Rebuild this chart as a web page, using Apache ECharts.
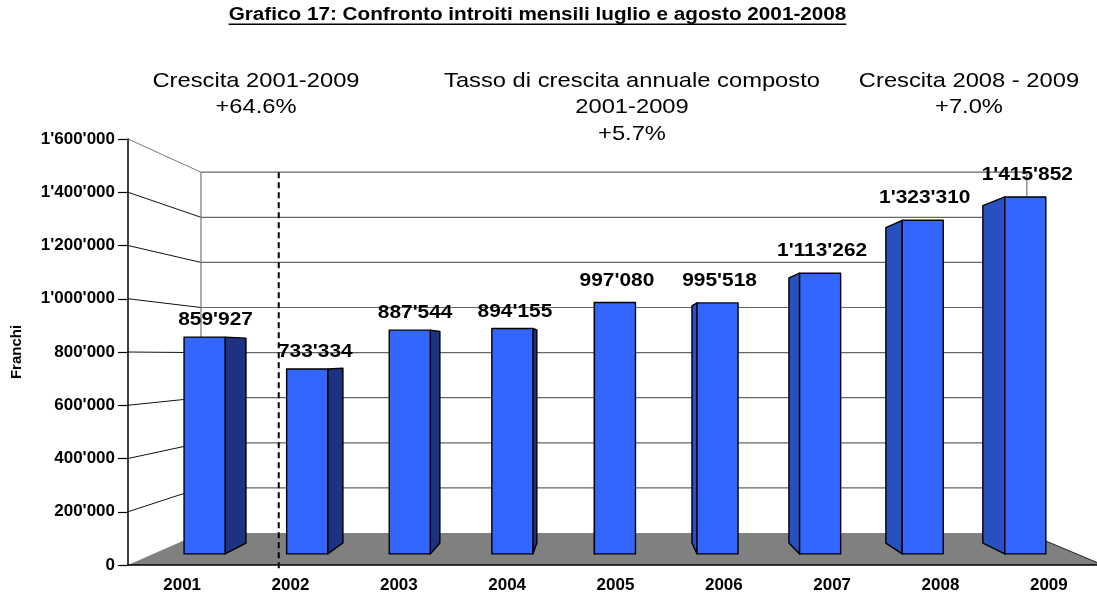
<!DOCTYPE html>
<html>
<head>
<meta charset="utf-8">
<title>Grafico 17</title>
<script src="https://cdn.jsdelivr.net/npm/echarts@6/dist/echarts.min.js"></script>
<style>
  html, body { margin: 0; padding: 0; background: #fff; }
  #chart { width: 1097px; height: 596px; }
</style>
</head>
<body>
<div id="chart"></div>
<script>
// dati del grafico
const anni = ['2001', '2002', '2003', '2004', '2005', '2006', '2007', '2008', '2009'];
const introiti = [859927, 733334, 887544, 894155, 997080, 995518, 1113262, 1323310, 1415852];
const tickValori = [0, 200000, 400000, 600000, 800000, 1000000, 1200000, 1400000, 1600000];
const titolo = 'Grafico 17: Confronto introiti mensili luglio e agosto 2001-2008';
const note = [
  ['Crescita 2001-2009', '+64.6%'],
  ['Tasso di crescita annuale composto', '2001-2009', '+5.7%'],
  ['Crescita 2008 - 2009', '+7.0%']
];

// prospettiva (punto di fuga e profondita')
const VX = 605, VY = 356;
const PROF_PARETE = 0.847;     // parete di fondo
const PROF_BARRA_F = 0.947;    // faccia anteriore barre
const PROF_BARRA_R = 0.895;    // faccia posteriore barre
const PROF_SEPARATORE = 0.885;
const LARGH_BARRA = 0.4;
const SEPARATORE_DOPO = 0;     // linea tratteggiata dopo il 2001

const FONT = '"Liberation Sans", Arial, sans-serif';
const STRETCH = 1.13;

function migliaia(v) {
  return String(Math.round(v)).replace(/\B(?=(\d{3})+(?!\d))/g, "'");
}

function proietta(p, s) {
  return [VX + s * (p[0] - VX), VY + s * (p[1] - VY)];
}

function disegnaParete(params, api) {
  const v = api.value(1);
  const band = api.size([1, 0])[0];
  const sx = api.coord([0, v])[0] - band / 2;
  const dx = api.coord([anni.length - 1, v])[0] + band / 2;
  const y = api.coord([0, v])[1];
  const y0 = api.coord([0, 0])[1];
  const bs = proietta([sx, y], PROF_PARETE);
  const bd = proietta([dx, y], PROF_PARETE);
  const children = [];
  if (v === 0) {
    children.push({
      type: 'polygon',
      shape: { points: [[sx, y], [dx, y], bd, bs] },
      style: { fill: '#808080' }
    });
    children.push({
      type: 'line',
      shape: { x1: dx, y1: y, x2: bd[0], y2: bd[1] },
      style: { stroke: '#222', lineWidth: 1 }
    });
    return { type: 'group', children };
  }
  const top = v === tickValori[tickValori.length - 1];
  children.push({
    type: 'line',
    shape: { x1: sx, y1: y, x2: bs[0], y2: bs[1] },
    style: { stroke: top ? '#7a7a7a' : '#111', lineWidth: 1 }
  });
  children.push({
    type: 'line',
    shape: { x1: bs[0], y1: bs[1], x2: bd[0], y2: bd[1] },
    style: { stroke: '#666', lineWidth: 1.2 }
  });
  if (top) {
    const bs0 = proietta([sx, y0], PROF_PARETE);
    const bd0 = proietta([dx, y0], PROF_PARETE);
    children.push({
      type: 'line',
      shape: { x1: bs[0], y1: bs[1], x2: bs0[0], y2: bs0[1] },
      style: { stroke: '#777', lineWidth: 1.2 }
    });
    children.push({
      type: 'line',
      shape: { x1: bd[0], y1: bd[1], x2: bd0[0], y2: bd0[1] },
      style: { stroke: '#777', lineWidth: 1.2 }
    });
  }
  return { type: 'group', children };
}

function disegnaSeparatore(params, api) {
  const i = api.value(0);
  const band = api.size([1, 0])[0];
  const alto = api.coord([i, api.value(1)]);
  const basso = api.coord([i, 0]);
  const x = proietta([basso[0] + band / 2, basso[1]], PROF_SEPARATORE)[0];
  const yTop = proietta(alto, PROF_PARETE)[1];
  return {
    type: 'line',
    shape: { x1: x, y1: yTop, x2: x, y2: basso[1] + 5 },
    style: { stroke: '#000', lineWidth: 2, lineDash: [6, 4] }
  };
}

function disegnaBarra(params, api) {
  const i = api.value(0);
  const v = api.value(1);
  const band = api.size([1, 0])[0];
  const half = band * LARGH_BARRA / 2;
  const base = api.coord([i, 0]);
  const cima = api.coord([i, v]);
  const cx = base[0];
  const angoli = (s) => ({
    tl: proietta([cx - half, cima[1]], s),
    tr: proietta([cx + half, cima[1]], s),
    br: proietta([cx + half, base[1]], s),
    bl: proietta([cx - half, base[1]], s)
  });
  const F = angoli(PROF_BARRA_F);
  const B = angoli(PROF_BARRA_R);
  const bordo = { stroke: '#000', lineWidth: 1.4, lineJoin: 'round' };
  const children = [];
  if (B.tl[1] < F.tl[1] - 1) {
    children.push({
      type: 'polygon',
      shape: { points: [F.tl, F.tr, B.tr, B.tl] },
      style: Object.assign({ fill: '#5b82ff' }, bordo)
    });
  }
  const sinistra = cx < VX;
  if (sinistra) {
    children.push({
      type: 'polygon',
      shape: { points: [F.tr, B.tr, B.br, F.br] },
      style: Object.assign({ fill: '#1d3381' }, bordo)
    });
  } else {
    children.push({
      type: 'polygon',
      shape: { points: [F.tl, B.tl, B.bl, F.bl] },
      style: Object.assign({ fill: '#2850c0' }, bordo)
    });
  }
  children.push({
    type: 'polygon',
    shape: { points: [F.tl, F.tr, F.br, F.bl] },
    style: Object.assign({ fill: '#3366ff' }, bordo)
  });
  const fc = (F.tl[0] + F.tr[0]) / 2;
  const bc = (B.tl[0] + B.tr[0]) / 2;
  const lx = sinistra ? (fc + bc) / 2 : fc + 2;
  children.push({
    type: 'text',
    x: lx,
    y: F.tl[1] - (sinistra ? 17 : 22),
    scaleX: STRETCH,
    style: {
      text: migliaia(v),
      fill: '#000',
      font: 'bold 18.5px ' + FONT,
      align: 'center', textAlign: 'center',
      verticalAlign: 'middle', textVerticalAlign: 'middle'
    }
  });
  return { type: 'group', children };
}

// titolo sottolineato + note
const ctx = document.createElement('canvas').getContext('2d');
ctx.font = 'bold 18px ' + FONT;
const largTitolo = ctx.measureText(titolo).width * 1.15;
const TITOLO_X = 537.5, TITOLO_Y = 15;
const NOTE_X = [256, 632, 969];
const NOTE_Y0 = 81, NOTE_DY = 26.5;

const grafica = [
  {
    type: 'text', x: TITOLO_X, y: TITOLO_Y, scaleX: 1.15,
    style: {
      text: titolo, fill: '#000', font: 'bold 18px ' + FONT,
      align: 'center', textAlign: 'center',
      verticalAlign: 'middle', textVerticalAlign: 'middle'
    }
  },
  {
    type: 'rect',
    shape: { x: TITOLO_X - largTitolo / 2, y: TITOLO_Y + 8.5, width: largTitolo, height: 1.6 },
    style: { fill: '#000' }
  }
];
note.forEach((righe, k) => {
  righe.forEach((r, j) => {
    grafica.push({
      type: 'text', x: NOTE_X[k], y: NOTE_Y0 + j * NOTE_DY, scaleX: STRETCH,
      style: {
        text: r, fill: '#000', font: '21px ' + FONT,
        align: 'center', textAlign: 'center',
        verticalAlign: 'middle', textVerticalAlign: 'middle'
      }
    });
  });
});

const chart = echarts.init(document.getElementById('chart'));
chart.setOption({
  animation: false,
  backgroundColor: '#fff',
  grid: { left: 128, top: 139, width: 975, height: 426, outerBoundsMode: 'none' },
  xAxis: {
    type: 'category',
    data: anni,
    z: 10,
    axisLine: { lineStyle: { color: '#000', width: 1.5 } },
    axisTick: { length: 10, lineStyle: { color: '#000', width: 1.2 } },
    axisLabel: { color: '#000', fontWeight: 'bold', fontSize: 17, fontFamily: FONT, margin: 12 },
    splitLine: { show: false }
  },
  yAxis: {
    type: 'value',
    min: 0, max: 1600000, interval: 200000,
    z: 10,
    name: 'Franchi',
    nameLocation: 'middle',
    nameRotate: 90,
    nameGap: 104,
    nameTextStyle: { color: '#000', fontWeight: 'bold', fontSize: 15, fontFamily: FONT },
    axisLine: { show: true, lineStyle: { color: '#000', width: 1.5 } },
    axisTick: { show: true, length: 10, lineStyle: { color: '#000', width: 1.2 } },
    axisLabel: { color: '#000', fontWeight: 'bold', fontSize: 17, fontFamily: FONT, margin: 13, formatter: migliaia },
    splitLine: { show: false }
  },
  graphic: grafica,
  series: [
    {
      type: 'custom', name: 'pareti', z: 1, silent: true,
      data: tickValori.map(v => [0, v]),
      encode: { x: 0, y: 1 },
      renderItem: disegnaParete
    },
    {
      type: 'custom', name: 'separatore', z: 2, silent: true,
      data: [[SEPARATORE_DOPO, tickValori[tickValori.length - 1]]],
      encode: { x: 0, y: 1 },
      renderItem: disegnaSeparatore
    },
    {
      type: 'custom', name: 'Introiti', z: 3,
      data: introiti.map((v, i) => [i, v]),
      encode: { x: 0, y: 1 },
      renderItem: disegnaBarra
    }
  ]
});
</script>
</body>
</html>
